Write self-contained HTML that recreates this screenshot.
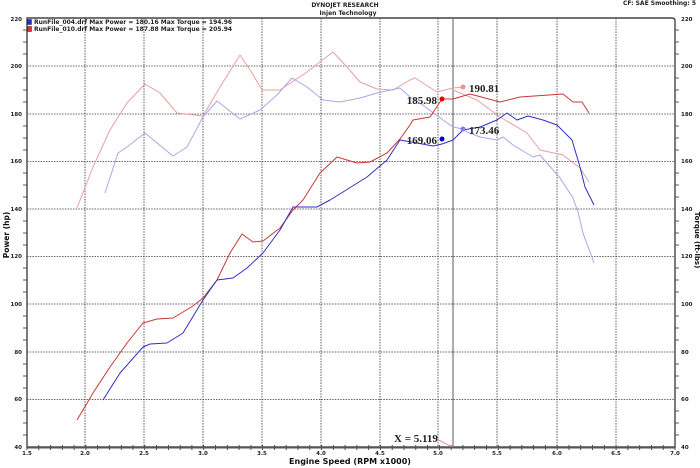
<!DOCTYPE html>
<html><head><meta charset="utf-8"><style>
html,body{margin:0;padding:0;background:#fff;}
svg{display:block;}
text{font-family:"DejaVu Sans","Liberation Sans",sans-serif;font-weight:bold;}
text.serif{font-family:"Liberation Serif",serif;}
</style></head><body>
<svg width="700" height="468" viewBox="0 0 700 468" xmlns="http://www.w3.org/2000/svg">
<rect width="700" height="468" fill="#fff"/>
<g stroke="#333" stroke-width="0.8" stroke-dasharray="1.5,1.2">
<line x1="85" y1="18" x2="85" y2="447"/><line x1="144" y1="18" x2="144" y2="447"/>
<line x1="203" y1="18" x2="203" y2="447"/><line x1="262" y1="18" x2="262" y2="447"/>
<line x1="321" y1="18" x2="321" y2="447"/><line x1="380" y1="18" x2="380" y2="447"/>
<line x1="438" y1="18" x2="438" y2="447"/><line x1="497" y1="18" x2="497" y2="447"/>
<line x1="557" y1="18" x2="557" y2="447"/><line x1="616" y1="18" x2="616" y2="447"/>
<line x1="27" y1="66" x2="675" y2="66"/><line x1="27" y1="114" x2="675" y2="114"/>
<line x1="27" y1="161.5" x2="675" y2="161.5"/><line x1="27" y1="209" x2="675" y2="209"/>
<line x1="27" y1="256.5" x2="675" y2="256.5"/><line x1="27" y1="304" x2="675" y2="304"/>
<line x1="27" y1="352" x2="675" y2="352"/><line x1="27" y1="399.5" x2="675" y2="399.5"/>
</g>
<g stroke="#222" stroke-width="0.8">
<path d="M23 30H27M23 42H27M23 54H27M23 78H27M23 90H27M23 102H27M23 126H27M23 138H27M23 150H27M23 173H27M23 185H27M23 197H27M23 221H27M23 233H27M23 245H27M23 268H27M23 280H27M23 292H27M23 316H27M23 328H27M23 340H27M23 364H27M23 376H27M23 388H27M23 411H27M23 423H27M23 435H27"/>
<path d="M675 30H679M675 42H679M675 54H679M675 78H679M675 90H679M675 102H679M675 126H679M675 138H679M675 150H679M675 173H679M675 185H679M675 197H679M675 221H679M675 233H679M675 245H679M675 268H679M675 280H679M675 292H679M675 316H679M675 328H679M675 340H679M675 364H679M675 376H679M675 388H679M675 411H679M675 423H679M675 435H679"/>
</g>
<path id="xt" stroke="#222" stroke-width="0.8" d=""/>
<script>
(function(){var d="";for(var i=0;i<=55;i++){var x=27+i*648/55;d+="M"+x.toFixed(1)+" 445V450";}document.getElementById("xt").setAttribute("d",d);})();
</script>
<path d="M27 447V18H672Q675 18 675 21V447Z" fill="none" stroke="#444" stroke-width="1.4"/>
<line x1="27" y1="447.5" x2="675" y2="447.5" stroke="#555" stroke-width="2"/>
<line x1="453" y1="18" x2="453" y2="447" stroke="#777" stroke-width="1.2"/>
<polyline fill="none" stroke="#e8a0a0" stroke-width="1" stroke-linejoin="round" points="77,208 93,167 110,130 127,103 145,84 160,93 177,113 203,116 220,87 240,55 252,73 262,90 280,90 307,72 333,52 347,67 360,82 377,89 393,90 410,80 415,78 437,92 453,88 463,87"/>
<polyline fill="none" stroke="#e8a0a0" stroke-width="1" stroke-linejoin="round" points="453,90 477,100 500,117 527,133 540,150 563,155 580,168 589,182"/>
<polyline fill="none" stroke="#a8a8e8" stroke-width="1" stroke-linejoin="round" points="105,193 118,153 127,147 145,133 157,143 173,156 187,147 203,117 217,101 240,119 260,110 277,95 292,78 307,87 323,100 340,102 360,98 377,93 400,88 410,97 420,103 443,120 453,127 463,129 467,132 480,137 497,140 503,137 513,145 533,157 540,155 560,178 573,198 578,212 583,233 594,263"/>
<polyline fill="none" stroke="#c83838" stroke-width="1" stroke-linejoin="round" points="77,420 93,393 110,367 127,343 143,323 157,319 173,318 193,306 203,298 217,280 230,253 242,234 253,242 263,241 280,228 293,210 303,200 320,173 337,157 357,163 370,162 387,153 400,139 410,125 413,120 430,117 442,99 453,99 470,94 500,102 520,97 563,94 573,102 582,102 589,113"/>
<polyline fill="none" stroke="#3030c0" stroke-width="1" stroke-linejoin="round" points="103,400 120,373 143,347 150,344 167,343 183,333 203,300 217,280 233,278 247,268 263,253 280,230 293,207 317,207 330,200 343,192 367,177 387,160 400,140 417,143 433,146 442,144 453,140 463,130 480,127 497,120 507,113 517,120 528,116 543,120 557,125 567,135 572,140 580,167 585,187 594,205"/>
<circle cx="442" cy="99" r="2.5" fill="#e00000"/>
<circle cx="463" cy="87" r="2.5" fill="#f09090"/>
<circle cx="442" cy="139" r="2.5" fill="#0000d0"/>
<circle cx="463" cy="129" r="2.5" fill="#8080f0"/>
<g font-size="11" fill="#222">
<text class="serif" x="469" y="92">190.81</text>
<text class="serif" x="437" y="104" text-anchor="end">185.98</text>
<text class="serif" x="437" y="144" text-anchor="end">169.06</text>
<text class="serif" x="469" y="134">173.46</text>
<text class="serif" x="394" y="442">X = 5.119</text>
</g>
<line x1="437" y1="439" x2="452" y2="447" stroke="#e08080" stroke-width="0.8"/>
<g font-size="6" fill="#222">
<text x="345" y="7" text-anchor="middle">DYNOJET RESEARCH</text>
<text x="348" y="15" text-anchor="middle">Injen Technology</text>
<text x="696" y="5" text-anchor="end">CF: SAE  Smoothing: 5</text>
<text x="34" y="24">RunFile_004.drf Max Power = 180.16    Max Torque = 194.96</text>
<text x="34" y="31">RunFile_010.drf Max Power = 187.88    Max Torque = 205.94</text>
</g>
<rect x="27.5" y="19.5" width="4" height="5" fill="#2030d0" stroke="#222" stroke-width="0.5"/>
<rect x="27.5" y="26.5" width="4" height="5" fill="#e03030" stroke="#222" stroke-width="0.5"/>
<g font-size="5.5" fill="#222" text-anchor="end">
<text x="22" y="21">220</text><text x="22" y="68">200</text><text x="22" y="116">180</text><text x="22" y="163">160</text><text x="22" y="211">140</text><text x="22" y="258">120</text><text x="22" y="306">100</text><text x="22" y="354">80</text><text x="22" y="401">60</text><text x="22" y="449">40</text>
</g>
<g font-size="5.5" fill="#222">
<text x="681" y="21">220</text><text x="681" y="68">200</text><text x="681" y="116">180</text><text x="681" y="163">160</text><text x="681" y="211">140</text><text x="681" y="258">120</text><text x="681" y="306">100</text><text x="681" y="354">80</text><text x="681" y="401">60</text><text x="681" y="449">40</text>
</g>
<g font-size="5.5" fill="#222" text-anchor="middle">
<text x="27" y="455">1.5</text><text x="85" y="455">2.0</text><text x="144" y="455">2.5</text><text x="203" y="455">3.0</text><text x="262" y="455">3.5</text><text x="321" y="455">4.0</text><text x="380" y="455">4.5</text><text x="438" y="455">5.0</text><text x="497" y="455">5.5</text><text x="557" y="455">6.0</text><text x="616" y="455">6.5</text><text x="675" y="455">7.0</text>
</g>
<text x="350" y="464" font-size="8" text-anchor="middle" fill="#111">Engine Speed (RPM x1000)</text>
<text transform="translate(9,235) rotate(-90)" font-size="7.5" text-anchor="middle" fill="#111">Power (hp)</text>
<text transform="translate(695,240) rotate(90)" font-size="7" text-anchor="middle" fill="#111">Torque (ft-lbs)</text>
</svg>
</body></html>
